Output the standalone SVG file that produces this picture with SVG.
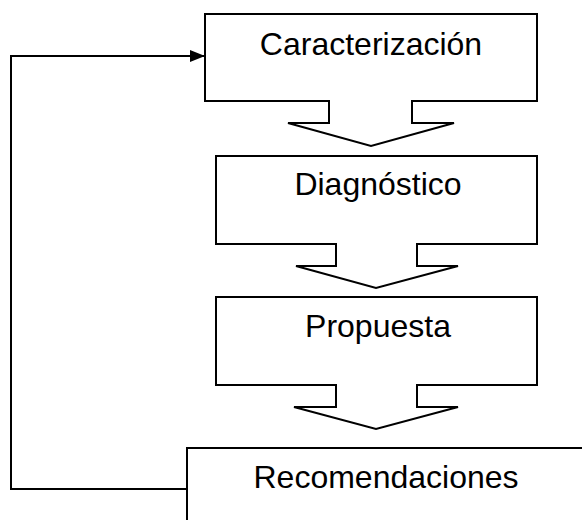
<svg xmlns="http://www.w3.org/2000/svg" width="582" height="520" viewBox="0 0 582 520">
  <style>
    .shape { fill: #ffffff; stroke: #000000; stroke-width: 2; stroke-linejoin: miter; }
    .label { font-family: "Liberation Sans", Arial, sans-serif; font-size: 32px; fill: #000000; text-anchor: middle; }
    .conn { fill: none; stroke: #000000; stroke-width: 2; }
  </style>
  <defs>
    <marker id="arrow" markerWidth="16" markerHeight="12" refX="15" refY="6" orient="auto" markerUnits="userSpaceOnUse">
      <path d="M0,0 L15,6 L0,12 Z" fill="#000000"/>
    </marker>
  </defs>
  <rect width="582" height="520" fill="#ffffff"/>
  <g id="caracterizacion">
    <path class="shape" d="M205,14 H537 V101 H412 V123 H454 L371,146 L288,123 H329 V101 H205 Z"/>
    <text class="label" x="371" y="55">Caracterización</text>
  </g>
  <g id="diagnostico">
    <path class="shape" d="M216,156 H537 V244 H417 V266 H458 L376,288 L296,266 H336 V244 H216 Z"/>
    <text class="label" x="378" y="195">Diagnóstico</text>
  </g>
  <g id="propuesta">
    <path class="shape" d="M216,297 H537 V385 H417 V407 H458 L376,429 L294,407 H336 V385 H216 Z"/>
    <text class="label" x="378" y="337">Propuesta</text>
  </g>
  <g id="recomendaciones">
    <rect class="shape" x="187" y="448" width="400" height="90"/>
    <text class="label" x="386" y="488">Recomendaciones</text>
  </g>
  <g id="connectors">
    <polyline class="conn" points="187,489 11,489 11,56 205,56" marker-end="url(#arrow)"/>
  </g>
</svg>
